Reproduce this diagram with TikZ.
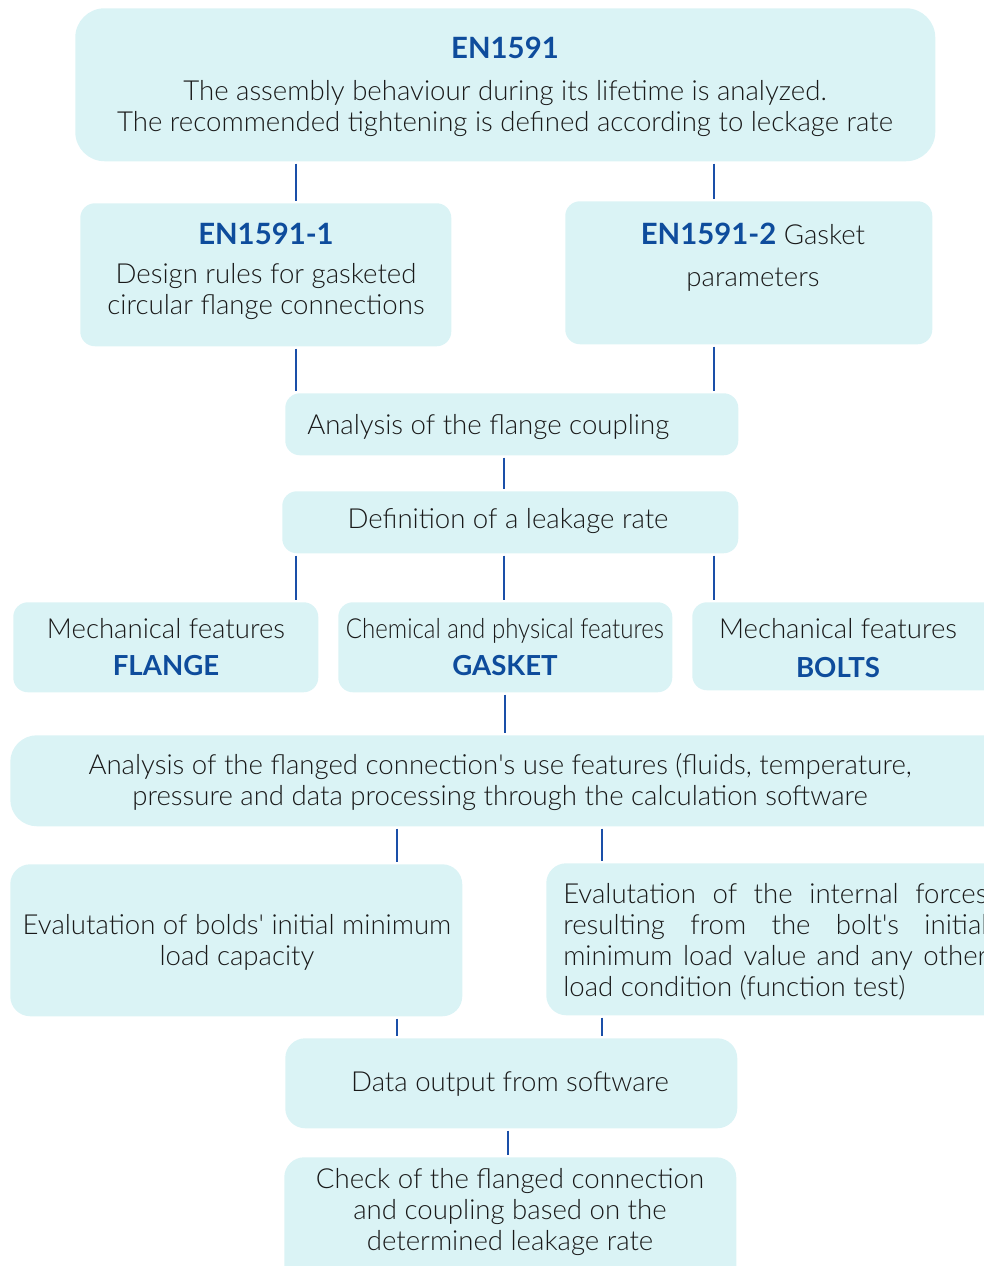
\documentclass[tikz,border=0pt]{standalone}
\usepackage{fontspec}
\setmainfont{Lato}[UprightFont=* Light, BoldFont=* Bold]
\definecolor{boxfill}{RGB}{218,243,245}
\definecolor{hblue}{RGB}{14,76,156}
\definecolor{lblue}{RGB}{26,79,168}
\definecolor{txt}{RGB}{25,25,25}
\begin{document}
\begin{tikzpicture}[x=0.75pt,y=-0.75pt,
  box/.style={fill=boxfill, draw=none, rounded corners=11pt, inner sep=0pt, anchor=north west},
  lbl/.style={text=txt, align=center, inner sep=0pt, font=\fontsize{20.7}{23.25}\selectfont},
  conn/.style={draw=lblue, line width=1.1pt, shorten <=1.5pt, shorten >=1.5pt}]
\useasboundingbox (0,0) rectangle (984,1266);
\clip (0,0) rectangle (984,1266);
\newcommand{\bl}[1]{\textbf{\color{hblue}#1}}
\newcommand{\blh}[1]{{\fontsize{22}{23.25}\selectfont\textbf{\color{hblue}#1}}}
\newcommand{\sq}{\textquotesingle}
\newcommand{\jl}[1]{\makebox[318pt][s]{#1}}
% boxes
\node[box, rounded corners=22pt, minimum width=645pt, minimum height=114.75pt] (top) at (75,8) {};
\node[box, minimum width=278.25pt, minimum height=107.25pt] (en1) at (80,203) {};
\node[box, minimum width=275.25pt, minimum height=107.25pt] (en2) at (565,201) {};
\node[box, minimum width=339.75pt, minimum height=46.5pt] (afc) at (285,393) {};
\node[box, minimum width=342pt, minimum height=46.5pt] (def) at (282,491) {};
\node[box, minimum width=228.75pt, minimum height=67.5pt] (fl) at (13,602) {};
\node[box, minimum width=250.5pt, minimum height=67.5pt] (ga) at (338,602) {};
\node[box, minimum width=232.5pt, minimum height=66pt] (bo) at (692,602) {};
\node[box, rounded corners=20pt, minimum width=750pt, minimum height=68.25pt] (big) at (10,735) {};
\node[box, rounded corners=15pt, minimum width=339pt, minimum height=114pt] (evl) at (10,864) {};
\node[box, rounded corners=15pt, minimum width=345pt, minimum height=114pt] (evr) at (546,863) {};
\node[box, rounded corners=15pt, minimum width=339pt, minimum height=67.5pt] (dat) at (285,1038) {};
\node[box, rounded corners=15pt, minimum width=339pt, minimum height=100pt] (chk) at (284,1157) {};
% texts
\node[lbl] (topt) at (505,87) {\blh{EN1591}\\[8pt]The assembly behaviour during its lifetime is analyzed.\\The recommended tightening is defined according to leckage rate};
\node[lbl] (en1t) at (266,271) {\blh{EN1591-1}\\[6pt]Design rules for gasketed\\circular flange connections};
\node[lbl] (en2t) at (753,257) {\blh{EN1591-2} Gasket\\[8pt]parameters};
\node[lbl, anchor=west] (afct) at (307,427) {Analysis of the flange coupling};
\node[lbl] (deft) at (508,521) {Definition of a leakage rate};
\node[lbl] (flt) at (166,647) {Mechanical features\\[5pt]\bl{FLANGE}};
\node[lbl] (gat) at (505,647) {\scalebox{0.87}[1]{Chemical and physical features}\\[5pt]\bl{GASKET}};
\node[lbl] (bot) at (838,648.5) {Mechanical features\\[6pt]\bl{BOLTS}};
\node[lbl] (bigt) at (500,782.5) {Analysis of the flanged connection\sq s use features (fluids, temperature,\\pressure and data processing through the calculation software};
\node[lbl] (evlt) at (237,942) {Evalutation of bolds\sq\ initial minimum\\load capacity};
\node[lbl, anchor=west, align=left] (evrt) at (563,941.5) {\jl{Evalutation of the internal forces}\\\jl{resulting from the bolt\sq s initial}\\\jl{minimum load value and any other}\\load condition (function test)};
\node[lbl] (datt) at (510,1084) {Data output from software};
\node[lbl] (chkt) at (510,1212.5) {Check of the flanged connection\\and coupling based on the\\determined leakage rate};
% connector columns
\coordinate (c296) at (296,0);
\coordinate (c714) at (714,0);
\coordinate (c504) at (504,0);
\coordinate (c505) at (505,0);
\coordinate (c397) at (397,0);
\coordinate (c602) at (602,0);
\coordinate (c508) at (508,0);
\draw[conn] (top.south -| c296) -- (en1.north -| c296);
\draw[conn] (top.south -| c714) -- (en2.north -| c714);
\draw[conn] (en1.south -| c296) -- (afc.north -| c296);
\draw[conn] (en2.south -| c714) -- (afc.north -| c714);
\draw[conn] (afc.south -| c504) -- (def.north -| c504);
\draw[conn] (def.south -| c296) -- (fl.north -| c296);
\draw[conn] (def.south -| c504) -- (ga.north -| c504);
\draw[conn] (def.south -| c714) -- (bo.north -| c714);
\draw[conn] (ga.south -| c505) -- (big.north -| c505);
\draw[conn] (big.south -| c397) -- (evl.north -| c397);
\draw[conn] (big.south -| c602) -- (evr.north -| c602);
\draw[conn] (evl.south -| c397) -- (dat.north -| c397);
\draw[conn] (evr.south -| c602) -- (dat.north -| c602);
\draw[conn] (dat.south -| c508) -- (chk.north -| c508);
\end{tikzpicture}
\end{document}
